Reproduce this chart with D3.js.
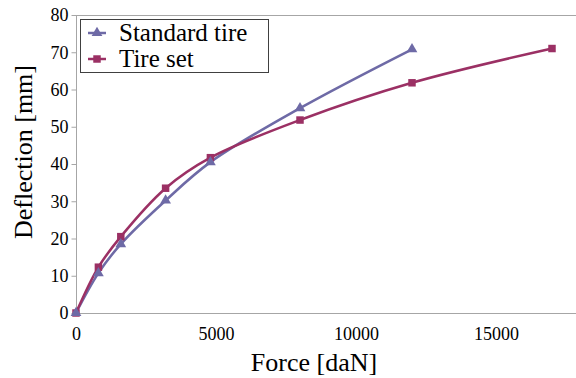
<!DOCTYPE html>
<html><head><meta charset="utf-8">
<script src="https://cdn.jsdelivr.net/npm/d3@7"></script>
</head>
<body style="margin:0"><svg id="c" width="576" height="378"></svg>
<script>
const forceStd = [0, 800, 1600, 3200, 4800, 8000, 12000];
const deflStd  = [0, 10.7, 18.5, 30.2, 40.5, 55, 70.8];
const forceSet = [0, 800, 1600, 3200, 4800, 8000, 12000, 17000];
const deflSet  = [0, 12.3, 20.5, 33.5, 41.7, 51.8, 61.8, 71];
const xTicks = [0, 5000, 10000, 15000];
const yTicks = [0, 10, 20, 30, 40, 50, 60, 70, 80];
const seriesNames = ["Standard tire", "Tire set"];
const colors = ["#6E6AA6", "#9B3064"];

const FONT = '"Liberation Serif"';
const svg = d3.select("#c");
const x = d3.scaleLinear().domain([0, 18000]).range([76, 580]);
const y = d3.scaleLinear().domain([0, 80]).range([313, 15]);
const gray = "#A6A6A6";

function txt(sel, size) {
  return sel.attr("font-family", "Liberation Serif").attr("font-size", size)
    .style("font-family", FONT).style("font-size", size + "px");
}

// frame
svg.append("line").attr("x1", 76).attr("x2", 576).attr("y1", y(80)+0.5).attr("y2", y(80)+0.5).attr("stroke", gray);

const xAxis = svg.append("g").attr("transform", `translate(0,${y(0)+0.5})`)
  .call(d3.axisBottom(x).tickValues(xTicks).tickSize(0).tickPadding(14).tickFormat(d3.format("d")));
xAxis.attr("font-family", null).attr("font-size", null);
xAxis.select(".domain").attr("stroke", gray).attr("d", "M76,0H576");
txt(xAxis.selectAll("text").attr("fill", "#000"), 18);

const yAxis = svg.append("g").attr("transform", `translate(${x(0)+0.5},0)`)
  .call(d3.axisLeft(y).tickValues(yTicks).tickSize(5).tickPadding(3));
yAxis.attr("font-family", null).attr("font-size", null);
yAxis.select(".domain").attr("stroke", gray).attr("d", `M0,${y(80)}V${y(0)}`);
yAxis.selectAll(".tick line").attr("stroke", gray);
txt(yAxis.selectAll("text").attr("fill", "#000"), 18);

// titles
txt(svg.append("text").attr("x", 314).attr("y", 371).attr("text-anchor", "middle"), 26).text("Force [daN]");
txt(svg.append("text").attr("transform", "translate(32,152) rotate(-90)").attr("text-anchor", "middle"), 26).text("Deflection [mm]");

const line = d3.line().x(d => x(d[0])).y(d => y(d[1])).curve(d3.curveCatmullRom.alpha(0.5));
const dataStd = forceStd.map((f, i) => [f, deflStd[i]]);
const dataSet = forceSet.map((f, i) => [f, deflSet[i]]);

svg.append("path").datum(dataStd).attr("d", line).attr("fill", "none").attr("stroke", colors[0]).attr("stroke-width", 2.5);
svg.append("path").datum(dataSet).attr("d", line).attr("fill", "none").attr("stroke", colors[1]).attr("stroke-width", 2.5);

const tri = d3.symbol().type(d3.symbolTriangle).size(50);
const sq = d3.symbol().type(d3.symbolSquare).size(56);
svg.selectAll(".ms").data(dataSet).join("path").attr("class", "ms")
  .attr("d", sq).attr("transform", d => `translate(${x(d[0])},${y(d[1])})`).attr("fill", colors[1]);
svg.selectAll(".mt").data(dataStd).join("path").attr("class", "mt")
  .attr("d", tri).attr("transform", d => `translate(${x(d[0])},${y(d[1])})`).attr("fill", colors[0]);

// legend
const lg = svg.append("g");
lg.append("rect").attr("x", 80.5).attr("y", 19.5).attr("width", 188).attr("height", 53)
  .attr("fill", "#fff").attr("stroke", "#404040").attr("stroke-width", 1);
const rows = [{n: seriesNames[0], c: colors[0], s: tri, yy: 33}, {n: seriesNames[1], c: colors[1], s: sq, yy: 59}];
rows.forEach(r => {
  lg.append("line").attr("x1", 88).attr("x2", 106).attr("y1", r.yy).attr("y2", r.yy).attr("stroke", r.c).attr("stroke-width", 2.5);
  lg.append("path").attr("d", r.s).attr("transform", `translate(97,${r.yy})`).attr("fill", r.c);
  txt(lg.append("text").attr("x", 119).attr("y", r.yy + 8), 25).text(r.n);
});
</script></body></html>
